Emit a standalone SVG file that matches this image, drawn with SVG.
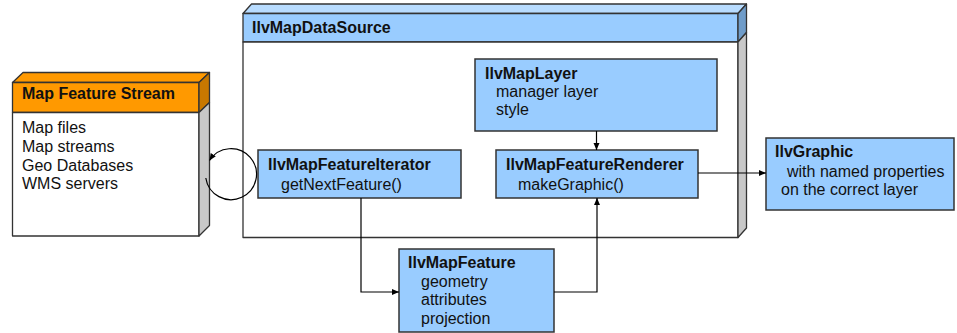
<svg xmlns="http://www.w3.org/2000/svg" width="957" height="333" viewBox="0 0 957 333">
<defs>
<style>
.t{font-family:"Liberation Sans",Arial,sans-serif;font-size:16px;fill:#111}
.b{font-weight:bold}
.box{fill:#99CCFF;stroke:#333;stroke-width:1.5}
.edge{stroke:#333;stroke-width:1.3;stroke-linejoin:round}
.side{fill:#C8C8C8}
.white{fill:#fff}
.conn{fill:none;stroke:#000;stroke-width:1.2}
</style>
<marker id="arr" viewBox="0 0 7 7" refX="7" refY="3.5" markerWidth="7" markerHeight="7" markerUnits="userSpaceOnUse" orient="auto">
<path d="M0,0.5 L7,3.5 L0,6.5 Z" fill="#000"/>
</marker>
</defs>
<rect width="957" height="333" fill="#fff"/>

<g id="map-feature-stream">
<path class="edge" d="M12.5,82.5 L23,72.5 L209.5,72.5 L199,82.5 Z" fill="#FF9900"/>
<rect class="edge" x="12.5" y="82.5" width="186.5" height="30" fill="#FF9900"/>
<path class="edge" d="M199,82.5 L209.5,72.5 L209.5,102.5 L199,112.5 Z" fill="#C87800"/>
<rect class="edge white" x="12.5" y="112.5" width="186.5" height="123.5"/>
<path class="edge side" d="M199,112.5 L209.5,102.5 L209.5,225.5 L199,236 Z"/>
<text class="t b" x="22" y="99">Map Feature Stream</text>
<text class="t" x="22" y="133">Map files</text>
<text class="t" x="22" y="152">Map streams</text>
<text class="t" x="22" y="170.5">Geo Databases</text>
<text class="t" x="22" y="189">WMS servers</text>
</g>

<g id="ilv-map-data-source">
<path class="edge" d="M243,13.5 L251.5,4 L746.5,4 L738,13.5 Z" fill="#B8DCFF"/>
<rect class="edge" x="243" y="13.5" width="495" height="28.5" fill="#99CCFF"/>
<path class="edge" d="M738,13.5 L746.5,4 L746.5,32.5 L738,42 Z" fill="#6F9CC9"/>
<rect class="edge white" x="243" y="42" width="495" height="195.5"/>
<path class="edge side" d="M738,42 L746.5,32.5 L746.5,228 L738,237.5 Z"/>
<text class="t b" x="252" y="32.5">IlvMapDataSource</text>
</g>

<g id="ilv-map-layer">
<rect class="box" x="475" y="59" width="242" height="72"/>
<text class="t b" x="485" y="79">IlvMapLayer</text>
<text class="t" x="496" y="97">manager layer</text>
<text class="t" x="496" y="115">style</text>
</g>

<g id="ilv-map-feature-iterator">
<rect class="box" x="258" y="150" width="203" height="48"/>
<text class="t b" x="268" y="170">IlvMapFeatureIterator</text>
<text class="t" x="281" y="190">getNextFeature()</text>
</g>

<g id="ilv-map-feature-renderer">
<rect class="box" x="496" y="150" width="202" height="48"/>
<text class="t b" x="506" y="170">IlvMapFeatureRenderer</text>
<text class="t" x="518" y="190">makeGraphic()</text>
</g>

<g id="ilv-map-feature">
<rect class="box" x="399" y="249" width="155" height="83"/>
<text class="t b" x="408" y="268">IlvMapFeature</text>
<text class="t" x="421" y="287">geometry</text>
<text class="t" x="421" y="305">attributes</text>
<text class="t" x="421" y="324">projection</text>
</g>

<g id="ilv-graphic">
<rect class="box" x="766" y="138" width="188" height="72"/>
<text class="t b" x="775" y="157">IlvGraphic</text>
<text class="t" x="787" y="177">with named properties</text>
<text class="t" x="781" y="195">on the correct layer</text>
</g>

<g id="connectors">
<path class="conn" d="M596.5,131 V150" marker-end="url(#arr)"/>
<path class="conn" d="M361,198 V292 H399" marker-end="url(#arr)"/>
<path class="conn" d="M554,292 H597 V198" marker-end="url(#arr)"/>
<path class="conn" d="M698,173 H766" marker-end="url(#arr)"/>
<path class="conn" d="M205.8,178 A25.5,25.5 0 1 0 209.5,160.5" stroke="#333" marker-end="url(#arr)"/>
</g>
</svg>
